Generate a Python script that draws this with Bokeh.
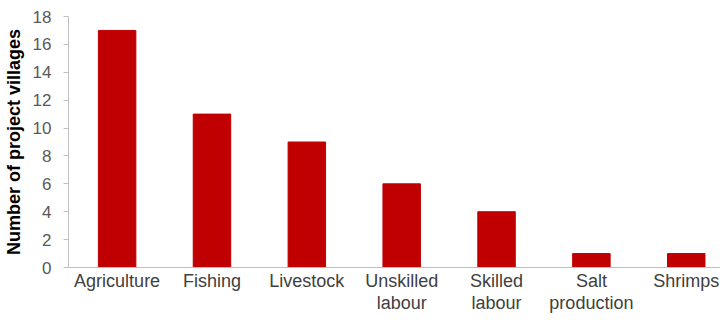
from bokeh.plotting import figure
from bokeh.models import ColumnDataSource, Range1d, FixedTicker
from bokeh.embed import file_html
from bokeh.resources import INLINE

categories = ["Agriculture", "Fishing", "Livestock", "Unskilled\nlabour",
              "Skilled\nlabour", "Salt\nproduction", "Shrimps"]
villages = [17, 11, 9, 6, 4, 1, 1]
y_ticks = [0, 2, 4, 6, 8, 10, 12, 14, 16, 18]

xpos = [i + 0.5 for i in range(len(categories))]
src = ColumnDataSource(dict(x=xpos, cat=categories, val=villages))

p = figure(x_range=Range1d(-0.0125, 6.861), y_range=Range1d(0, 18),
           width=720, height=315, output_backend="svg", toolbar_location=None,
           min_border_left=67, min_border_right=0, min_border_top=16, min_border_bottom=0)
p.vbar(x="x", top="val", width=0.395, source=src, color="#C00000")

p.xgrid.visible = False
p.ygrid.visible = False
p.outline_line_color = None

p.yaxis.ticker = FixedTicker(ticks=y_ticks)
p.yaxis.axis_label = "Number of project villages"
p.yaxis.axis_label_text_font = "Liberation Sans"
p.yaxis.axis_label_text_font_style = "bold"
p.yaxis.axis_label_text_font_size = "18px"
p.yaxis.axis_label_text_color = "#000000"
p.yaxis.axis_label_standoff = 6
p.yaxis.major_label_text_font = "Liberation Sans"
p.yaxis.major_label_text_font_size = "17px"
p.yaxis.major_label_text_color = "#595959"
p.yaxis.axis_line_color = "#BFBFBF"
p.yaxis.major_tick_line_color = "#BFBFBF"
p.yaxis.major_tick_in = 0
p.yaxis.major_tick_out = 5
p.yaxis.minor_tick_line_color = None
p.yaxis.major_label_standoff = 12

p.xaxis.ticker = FixedTicker(ticks=xpos)
p.xaxis.major_label_overrides = {x: c for x, c in zip(xpos, categories)}
p.xaxis.axis_line_color = "#BFBFBF"
p.xaxis.major_tick_line_color = None
p.xaxis.major_tick_in = 0
p.xaxis.major_tick_out = 0
p.xaxis.minor_tick_line_color = None
p.xaxis.major_label_text_font = "Liberation Sans"
p.xaxis.major_label_text_font_size = "18px"
p.xaxis.major_label_text_line_height = 1.1
p.xaxis.major_label_text_color = "#404040"
p.xaxis.major_label_standoff = 3

open("out.html", "w").write(file_html(p, INLINE))
